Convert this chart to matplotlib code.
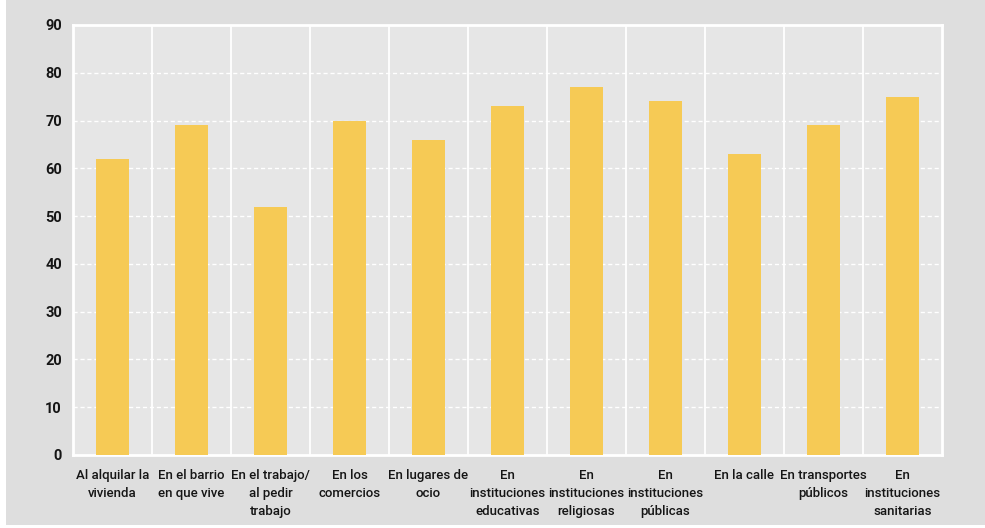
import matplotlib
matplotlib.use('Agg')
import matplotlib.pyplot as plt
import numpy as np

categorias = ['Al alquilar la\nvivienda', 'En el barrio\nen que vive', 'En el trabajo/\nal pedir\ntrabajo',
              'En los\ncomercios', 'En lugares de\nocio', 'En\ninstituciones\neducativas',
              'En\ninstituciones\nreligiosas', 'En\ninstituciones\npúblicas', 'En la calle',
              'En transportes\npúblicos', 'En\ninstituciones\nsanitarias']
valores = [62, 69, 52, 70, 66, 73, 77, 74, 63, 69, 75]
yticks = [0, 10, 20, 30, 40, 50, 60, 70, 80, 90]

plt.rcParams['font.family'] = ['Roboto', 'DejaVu Sans']

fig = plt.figure(figsize=(9.85, 5.28), dpi=100)
fig.patch.set_facecolor('white')
# fondo gris de la figura
fig.patches.append(plt.Rectangle((6/985, 0.006), 1, 1, transform=fig.transFigure,
                                 facecolor='#dedede', edgecolor='none', zorder=-10))

ax = fig.add_axes([73/985, 1 - 455/528, (942-73)/985, (455-25)/528])
ax.set_facecolor('#e6e6e6')

x = np.arange(len(categorias))
ax.bar(x, valores, width=0.41, color='#f6ca55', zorder=3)

ax.set_xlim(-0.5, len(categorias) - 0.5)
ax.set_ylim(0, 90)
ax.set_yticks(yticks)
ax.set_xticks(x)
ax.set_xticklabels(categorias, fontsize=9.5, linespacing=1.5, color='#151515', fontweight='medium')
ax.tick_params(axis='both', length=0)
ax.tick_params(axis='y', pad=8, labelsize=10.5)
ax.tick_params(axis='x', pad=10)
for lab in ax.get_yticklabels():
    lab.set_fontweight('bold')
    lab.set_color('#151515')

for yv in yticks[1:-1]:
    ax.axhline(yv, color='white', lw=1, ls=(0, (3, 2)), zorder=1)
for xv in np.arange(0.5, len(categorias) - 0.5):
    ax.axvline(xv, color='white', lw=1.3, zorder=1)

for s in ax.spines.values():
    s.set_color('white')
    s.set_linewidth(2)

fig.savefig('out.png', dpi=100, facecolor=fig.get_facecolor())
